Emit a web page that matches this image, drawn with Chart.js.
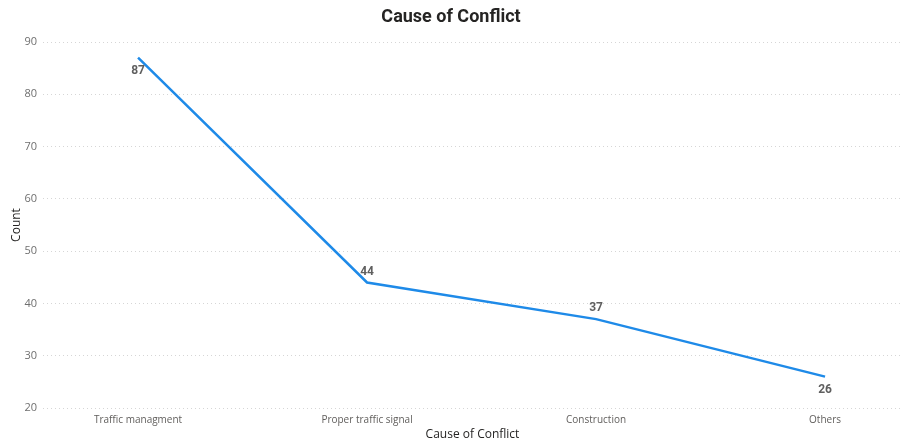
<!DOCTYPE html>
<html>
<head>
<meta charset="utf-8">
<script src="https://cdn.jsdelivr.net/npm/chart.js@4"></script>
<style>
  html, body { margin: 0; padding: 0; background: #fff; }
  #wrap { width: 903px; height: 443px; position: relative; }
</style>
</head>
<body>
<div id="wrap"><canvas id="chart"></canvas></div>
<script>
// categories and counts
const causes = ['Traffic managment', 'Proper traffic signal', 'Construction', 'Others'];
const counts = [87, 44, 37, 26];
const yTicks = [20, 30, 40, 50, 60, 70, 80, 90];
// where each value label sits relative to its point
const labelSide = ['below', 'above', 'above', 'below'];

const points = counts.map((v, i) => ({ x: i, y: v }));

// draw the count next to every point
const valueLabels = {
  id: 'valueLabels',
  afterDatasetsDraw(chart) {
    const { ctx } = chart;
    const meta = chart.getDatasetMeta(0);
    ctx.save();
    ctx.font = 'bold 12px Roboto, sans-serif';
    ctx.fillStyle = '#5f5f5f';
    ctx.textAlign = 'center';
    ctx.textBaseline = 'middle';
    meta.data.forEach((pt, i) => {
      const dy = labelSide[i] === 'below' ? 13 : -11;
      ctx.fillText(String(counts[i]), pt.x, pt.y + dy);
    });
    ctx.restore();
  }
};

new Chart(document.getElementById('chart'), {
  type: 'line',
  data: {
    datasets: [{
      label: 'Count',
      data: points,
      borderColor: '#1e8ae8',
      borderWidth: 2.5,
      pointRadius: 0,
      tension: 0,
      fill: false
    }]
  },
  options: {
    responsive: true,
    maintainAspectRatio: false,
    animation: false,
    layout: { padding: { top: 0, right: 1, bottom: 0, left: 0 } },
    plugins: {
      legend: { display: false },
      tooltip: { enabled: false },
      title: {
        display: true,
        text: 'Cause of Conflict',
        color: '#252423',
        font: { family: 'Roboto, sans-serif', size: 18, weight: 'bold' },
        padding: { top: 7, bottom: 13.4 }
      }
    },
    scales: {
      x: {
        type: 'linear',
        min: -0.415,
        max: 3.336,
        grid: { display: false, drawTicks: false },
        border: { display: false },
        afterBuildTicks(scale) {
          scale.ticks = causes.map((c, i) => ({ value: i }));
        },
        afterFit(scale) { scale.height = 35; },
        ticks: {
          padding: 6,
          maxRotation: 0,
          autoSkip: false,
          color: '#605e5c',
          font: { family: '"Open Sans", sans-serif', size: 10 },
          callback: (v) => causes[v]
        },
        title: {
          display: true,
          text: 'Cause of Conflict',
          color: '#252423',
          font: { family: '"Open Sans", sans-serif', size: 12 },
          padding: { top: 0, bottom: 1 }
        }
      },
      y: {
        min: 20,
        max: 90,
        afterBuildTicks(scale) {
          scale.ticks = yTicks.map(v => ({ value: v }));
        },
        afterFit(scale) { scale.width = 43; },
        grid: {
          color: '#d6d6d6',
          lineWidth: 1,
          drawTicks: false
        },
        border: { display: false, dash: [1, 3] },
        ticks: {
          padding: 6,
          color: '#6f6f6f',
          font: { family: '"Open Sans", sans-serif', size: 11 }
        },
        title: {
          display: true,
          text: 'Count',
          color: '#252423',
          font: { family: '"Open Sans", sans-serif', size: 12 },
          padding: { top: 9, bottom: 0 }
        }
      }
    }
  },
  plugins: [valueLabels]
});
</script>
</body>
</html>
